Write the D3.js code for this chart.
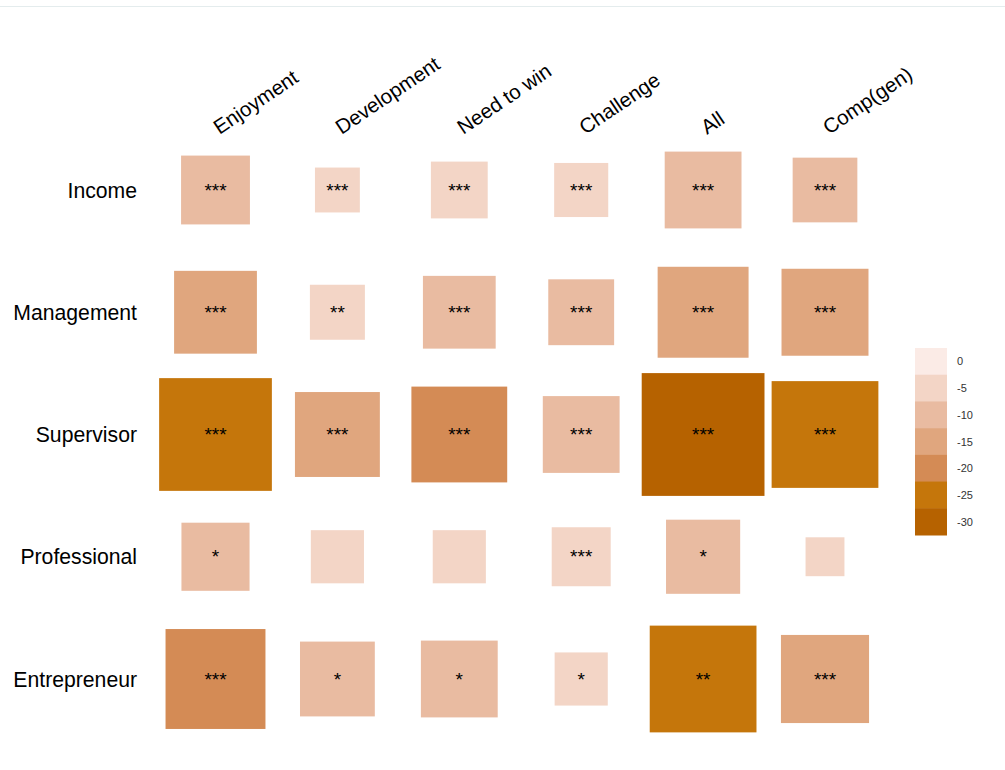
<!DOCTYPE html>
<html>
<head>
<meta charset="utf-8">
<script src="https://cdn.jsdelivr.net/npm/d3@7"></script>
<style>
  body { margin: 0; background: #fff; }
  text { font-family: "Liberation Sans", Arial, Helvetica, sans-serif; }
</style>
</head>
<body>
<svg id="chart" width="1005" height="770"></svg>
<script>
// columns / rows of the grid
var cols = ["Enjoyment", "Development", "Need to win", "Challenge", "All", "Comp(gen)"];
var rows = ["Income", "Management", "Supervisor", "Professional", "Entrepreneur"];

// estimated values (negative), one array per row
var income       = [-9.4, -4.0, -6.4, -5.8, -11.7, -8.3];
var management   = [-13.6, -6.0, -10.5, -8.6, -16.4, -15.0];
var supervisor   = [-25.2, -14.3, -18.2, -11.7, -29.9, -22.6];
var professional = [-9.2, -5.6, -5.6, -6.9, -10.9, -3.0];
var entrepreneur = [-19.8, -11.1, -11.7, -5.6, -22.6, -15.4];

// significance stars
var starsIncome       = ["***", "***", "***", "***", "***", "***"];
var starsManagement   = ["***", "**", "***", "***", "***", "***"];
var starsSupervisor   = ["***", "***", "***", "***", "***", "***"];
var starsProfessional = ["*", "", "", "***", "*", ""];
var starsEntrepreneur = ["***", "*", "*", "*", "**", "***"];

// legend
var legendTicks = [0, -5, -10, -15, -20, -25, -30];
var legendColors = ["#fbebe6", "#f3d5c6", "#e9bba1", "#e0a67e", "#d48b55", "#c5760b", "#b66200"];

var values = [income, management, supervisor, professional, entrepreneur];
var stars = [starsIncome, starsManagement, starsSupervisor, starsProfessional, starsEntrepreneur];

var cells = [];
rows.forEach((r, i) => {
    cols.forEach((c, j) => {
        cells.push({row: r, col: c, v: values[i][j], s: stars[i][j]});
    });
});

var svg = d3.select("#chart");

// thin rule at very top (page edge)
svg.append("line")
    .attr("x1", 0).attr("x2", 1005)
    .attr("y1", 6.5).attr("y2", 6.5)
    .attr("stroke", "#e4eced").attr("stroke-width", 1);

var x = d3.scalePoint().domain(cols).range([215.5, 825]);
var y = d3.scalePoint().domain(rows).range([190, 679]);
var side = d3.scaleSqrt().domain([0, 30]).range([0, 123]);
var color = d3.scaleThreshold()
    .domain([-27.5, -22.5, -17.5, -12.5, -7.5, -2.5])
    .range(legendColors.slice().reverse());

svg.selectAll("rect.cell")
    .data(cells)
    .enter()
    .append("rect")
    .attr("class", "cell")
    .attr("x", d => x(d.col) - side(Math.abs(d.v)) / 2)
    .attr("y", d => y(d.row) - side(Math.abs(d.v)) / 2)
    .attr("width", d => side(Math.abs(d.v)))
    .attr("height", d => side(Math.abs(d.v)))
    .attr("fill", d => color(d.v));

svg.selectAll("text.star")
    .data(cells)
    .enter()
    .append("text")
    .attr("class", "star")
    .attr("x", d => x(d.col))
    .attr("y", d => y(d.row) + 6.5)
    .attr("text-anchor", "middle")
    .attr("font-size", 19)
    .attr("fill", "#000")
    .text(d => d.s);

// row labels
svg.selectAll("text.rowlab")
    .data(rows)
    .enter()
    .append("text")
    .attr("class", "rowlab")
    .attr("x", 137)
    .attr("y", d => y(d) + 7.5)
    .attr("text-anchor", "end")
    .attr("font-size", 21.2)
    .attr("fill", "#000")
    .text(d => d);

// column labels, rotated
svg.selectAll("text.collab")
    .data(cols)
    .enter()
    .append("text")
    .attr("class", "collab")
    .attr("transform", d => "translate(" + (x(d) + 4) + ",135) rotate(-34)")
    .attr("font-size", 20.5)
    .attr("fill", "#000")
    .text(d => d);

// legend
var ly = d3.scaleBand().domain(legendTicks).range([348, 535]);
var legend = svg.append("g");
legend.selectAll("rect")
    .data(legendTicks)
    .enter()
    .append("rect")
    .attr("x", 915)
    .attr("y", d => ly(d))
    .attr("width", 32)
    .attr("height", ly.bandwidth() + 0.5)
    .attr("fill", (d, i) => legendColors[i]);
legend.selectAll("text")
    .data(legendTicks)
    .enter()
    .append("text")
    .attr("x", 957)
    .attr("y", d => ly(d) + ly.bandwidth() / 2 + 4)
    .attr("font-size", 11)
    .attr("fill", "#333")
    .text(d => d);
</script>
</body>
</html>
